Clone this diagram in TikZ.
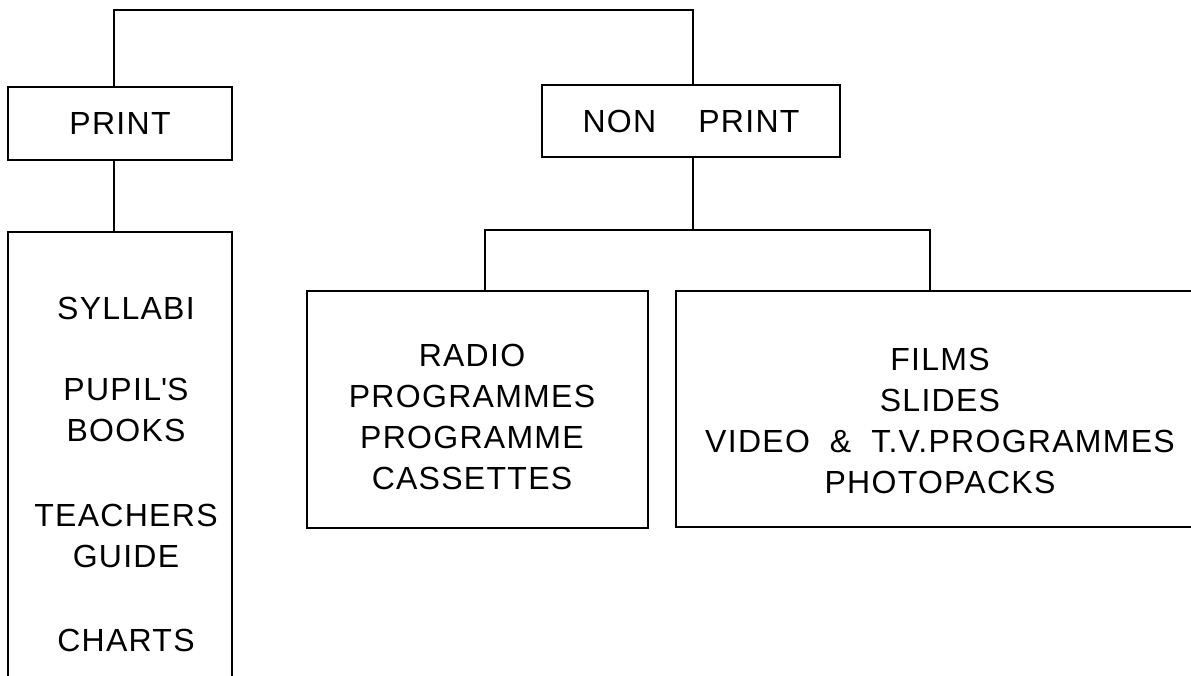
\documentclass[tikz,border=0pt]{standalone}
\usepackage{fontspec}
\setsansfont{Liberation Sans}[LetterSpace=4.0]
\usepackage{tikz}

\begin{document}
\begin{tikzpicture}[x=1pt,y=-1pt,line width=2.4pt,
        box/.style={draw,rectangle,inner sep=0pt},
        itemtext/.style={font=\sffamily\fontsize{32}{41}\selectfont,align=center,inner sep=0pt}]
    \useasboundingbox (0,0) rectangle (1191,676);
    \clip (0,0) rectangle (1191,676);

    \node[box,itemtext,minimum width=224pt,minimum height=73pt] (print) at (120,123.5) {PRINT};
    \node[box,itemtext,minimum width=298pt,minimum height=72pt] (nonprint) at (691,121) {NON\quad\ PRINT};

    \node[box,minimum width=224pt,minimum height=488pt] (printlist) at (120,476) {};
    \node[itemtext] (syllabi) at (126,308) {SYLLABI};
    \node[itemtext] (pupils) at (126,410) {PUPIL\textquotesingle S\\BOOKS};
    \node[itemtext] (teachers) at (126,536) {TEACHERS\\GUIDE};
    \node[itemtext] (charts) at (126,640) {CHARTS};

    \node[box,minimum width=341pt,minimum height=237pt] (radio) at (477.5,409.5) {};
    \node[itemtext] (radiotext) at (472,417) {RADIO\\PROGRAMMES\\PROGRAMME\\CASSETTES};

    \node[box,minimum width=534pt,minimum height=236pt] (films) at (943,409) {};
    \node[itemtext] (filmstext) at (940,421) {FILMS\\SLIDES\\VIDEO\hspace{20pt}\&\hspace{20pt}T.V.PROGRAMMES\\PHOTOPACKS};

    \coordinate (top) at (400,10);
    \coordinate (fork) at (693,230);
    \draw ([xshift=-6pt]print.north) |- (top) -| ([xshift=2pt]nonprint.north);
    \draw ([xshift=-6pt]print.south) -- ([xshift=-6pt]printlist.north);
    \draw ([xshift=2pt]nonprint.south) -- (fork);
    \draw ([xshift=7.5pt]radio.north) |- (fork) -| ([xshift=-13pt]films.north);
\end{tikzpicture}
\end{document}
